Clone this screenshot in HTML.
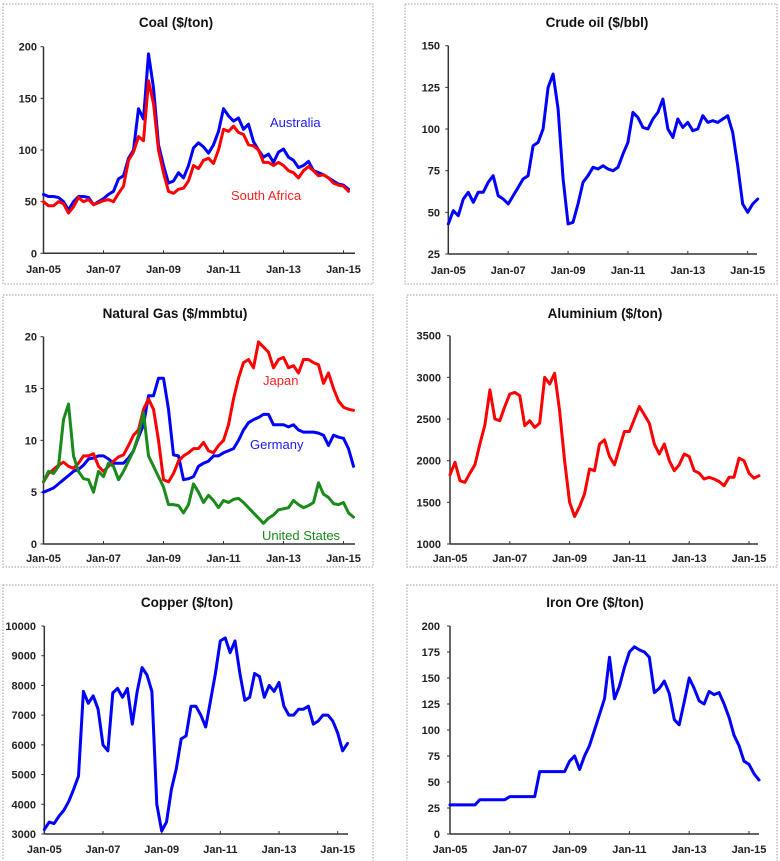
<!DOCTYPE html>
<html><head><meta charset="utf-8"><style>
html,body{margin:0;padding:0;background:#fff;}
body{width:780px;height:861px;overflow:hidden;font-family:"Liberation Sans",Arial,sans-serif;}
svg{display:block;}
</style></head><body>
<svg id="chart" width="780" height="861" viewBox="0 0 780 861" xmlns="http://www.w3.org/2000/svg"></svg>
<script>
// Month offsets: index i -> month 2*i from Jan-05
const xTickLabels = ["Jan-05","Jan-07","Jan-09","Jan-11","Jan-13","Jan-15"];
const coalAustralia = [57,55,55,54,50,42,50,55,55,54,47,50,53,57,60,72,75,92,100,140,130,193,160,105,85,68,70,78,73,85,102,107,103,97,105,118,140,133,128,131,120,125,108,100,93,96,88,98,101,93,90,83,85,89,80,78,76,73,70,67,66,62];
const coalSouthAfrica = [50,46,46,50,48,39,45,54,50,52,47,49,51,52,50,58,65,90,98,113,109,167,145,100,78,60,58,62,63,70,85,82,90,92,87,100,120,118,123,117,115,105,104,100,88,88,85,88,85,80,78,73,80,84,80,75,76,73,68,66,65,60];
const crudeOil = [43,51,48,58,62,56,62,62,68,72,60,58,55,60,65,70,72,90,92,100,125,133,112,70,43,44,55,68,72,77,76,78,76,75,77,85,92,110,107,101,100,106,110,118,100,95,106,101,104,99,100,108,104,105,104,106,108,98,78,55,50,55,58];
const gasJapan = [6,6.8,7.2,7.6,7.9,7.5,7.3,7.8,8.5,8.5,8.7,7.5,7,7.5,8,8.4,8.6,9.5,10.5,11,13,14,13,10,6.2,6,6.8,8,8.5,8.8,9.2,9.2,9.8,9,8.8,9.5,10,11.5,14,16,17.5,17.8,17,19.5,19,18.5,17,17.8,18,17,17.2,16.5,17.8,17.8,17.5,17.3,15.5,16.5,15,13.8,13.2,13,12.9];
const gasGermany = [5,5.2,5.4,5.8,6.2,6.6,7,7.2,7.6,8.2,8.3,8.5,8.5,8.2,7.8,7.8,7.8,8.3,9,10.3,11.5,14.3,14.3,16,16,13,8.6,8.5,6.2,6.3,6.5,7.5,7.8,8,8.5,8.5,8.8,9,9.2,10,11,11.7,12,12.2,12.5,12.5,11.5,11.5,11.5,11.3,11.5,11,10.8,10.8,10.8,10.7,10.5,9.5,10.5,10.3,10.2,9.2,7.5];
const gasUS = [6,7,6.8,7.5,12,13.5,8.5,7,6.3,6.2,5,7,6.5,7.8,7.5,6.2,7,8,9,10.5,12.7,8.5,7.5,6.5,5.5,3.8,3.8,3.7,3,3.8,5.8,5,4,4.7,4.2,3.5,4.2,4,4.3,4.4,4,3.5,3,2.5,2,2.5,2.8,3.3,3.4,3.5,4.2,3.8,3.5,3.7,4,5.9,4.8,4.5,3.9,3.8,4,3,2.6];
const aluminium = [1830,1980,1760,1740,1850,1950,2200,2430,2850,2500,2480,2650,2800,2820,2780,2420,2480,2400,2450,3000,2920,3050,2600,2000,1500,1330,1450,1600,1900,1880,2200,2250,2050,1950,2150,2350,2350,2500,2650,2550,2450,2200,2080,2200,2000,1880,1950,2080,2050,1880,1850,1780,1800,1780,1750,1700,1800,1800,2030,2000,1850,1790,1820];
const copper = [3150,3400,3350,3600,3800,4100,4500,4950,7800,7400,7650,7200,6000,5800,7750,7900,7600,7900,6700,7800,8600,8350,7800,4000,3100,3400,4500,5200,6200,6300,7300,7300,7000,6600,7500,8400,9500,9600,9100,9500,8400,7500,7600,8400,8300,7600,8000,7800,8100,7300,7000,7000,7200,7200,7300,6700,6800,7000,7000,6800,6400,5800,6050];
const ironOre = [28,28,28,28,28,28,33,33,33,33,33,33,36,36,36,36,36,36,60,60,60,60,60,60,70,75,62,75,85,100,115,130,170,130,142,160,175,180,177,175,170,136,140,147,135,110,105,127,150,140,128,125,137,134,136,125,112,95,85,70,67,58,52];
const coalTicks = [0,50,100,150,200];
const oilTicks = [25,50,75,100,125,150];
const gasTicks = [0,5,10,15,20];
const aluTicks = [1000,1500,2000,2500,3000,3500];
const copperTicks = [3000,4000,5000,6000,7000,8000,9000,10000];
const ironTicks = [0,25,50,75,100,125,150,175,200];

const NS = "http://www.w3.org/2000/svg";
const svg = document.getElementById('chart');
function mk(tag, attrs, parent){const e=document.createElementNS(NS,tag);for(const k in attrs)e.setAttribute(k,attrs[k]);(parent||svg).appendChild(e);return e;}

function panel(cfg){
  const g = mk('g',{});
  
  
  const fr = mk('rect',{x:cfg.fx,y:cfg.fy,width:cfg.fw,height:cfg.fh,fill:'#fff',stroke:'#b0b0b0','stroke-width':1.2,'stroke-dasharray':'1.5 1.5'},g);
  
  
  const t = mk('text',{x:cfg.tx,y:cfg.ty,'text-anchor':'middle','font-size':13.5,'font-weight':'bold',fill:'#111'},g);
  t.textContent = cfg.title;
  
  
  const ppm = (cfg.x15 - cfg.x0)/120;
  const xs = m => cfg.x0 + m*ppm;
  const ys = v => cfg.yBot - (v - cfg.vMin)/(cfg.vMax - cfg.vMin)*(cfg.yBot - cfg.yTop);
  const ya = mk('line',{x1:cfg.x0,y1:cfg.yTop,x2:cfg.x0,y2:cfg.yBot,stroke:'#333','stroke-width':1.5},g);
  
  
  const xa = mk('line',{x1:cfg.x0,y1:cfg.yBot,x2:cfg.xEnd,y2:cfg.yBot,stroke:'#333','stroke-width':1.5},g);
  
  
  cfg.ticks.forEach(v=>{
    const y=ys(v);
    mk('line',{x1:cfg.x0-3,y1:y,x2:cfg.x0,y2:y,stroke:'#333','stroke-width':1},g);
    const tl=mk('text',{x:cfg.ylx,y:y+4,'text-anchor':'end','font-size':11,'font-weight':'bold',fill:'#222'},g);
    tl.textContent=v;
    
    
  });
  xTickLabels.forEach((lab,i)=>{
    const x=xs(i*24);
    mk('line',{x1:x,y1:cfg.yBot-3,x2:x,y2:cfg.yBot,stroke:'#333','stroke-width':1},g);
    const tl=mk('text',{x:x,y:cfg.xly,'text-anchor':'middle','font-size':11,'font-weight':'bold',fill:'#222'},g);
    tl.textContent=lab;
    
    
  });
  cfg.series.forEach(s=>{
    const d = s.data.map((v,i)=>(i?'L':'M')+xs(i*2).toFixed(1)+' '+ys(v).toFixed(1)).join(' ');
    const p = mk('path',{d:d,fill:'none',stroke:s.color,'stroke-width':3,'stroke-linejoin':'round','stroke-linecap':'round'},g);
    
    
  });
  (cfg.labels||[]).forEach(l=>{
    const tl=mk('text',{x:l.x,y:l.y,'font-size':13,fill:l.color},g);
    tl.textContent=l.text;
    
    
  });
}
const BLUE='#0000ff', RED='#ff0000', GREEN='#1a8a1a';
panel({name:'coal-panel',title:'Coal ($/ton)',fx:3,fy:4,fw:370,fh:280,tx:176,ty:27,x0:43.5,x15:343.5,xEnd:355,yTop:46.7,yBot:253.3,vMin:0,vMax:200,ticks:coalTicks,ylx:37,xly:273,
  series:[{name:'coal-australia-line',data:coalAustralia,color:BLUE},{name:'coal-south-africa-line',data:coalSouthAfrica,color:RED}],
  labels:[{text:'Australia',x:270,y:127,color:'#1a1aff'},{text:'South Africa',x:231,y:200,color:'#ff2020'}]});
panel({name:'crude-oil-panel',title:'Crude oil ($/bbl)',fx:405,fy:4,fw:372,fh:280,tx:597,ty:27,x0:448.3,x15:747.7,xEnd:757,yTop:45.7,yBot:254,vMin:25,vMax:150,ticks:oilTicks,ylx:440,xly:274,
  series:[{name:'crude-oil-line',data:crudeOil,color:BLUE}]});
panel({name:'natural-gas-panel',title:'Natural Gas ($/mmbtu)',fx:3,fy:295,fw:370,fh:272,tx:175,ty:318,x0:43.5,x15:343.5,xEnd:355,yTop:336.7,yBot:544,vMin:0,vMax:20,ticks:gasTicks,ylx:37,xly:562,
  series:[{name:'gas-germany-line',data:gasGermany,color:BLUE},{name:'gas-japan-line',data:gasJapan,color:RED},{name:'gas-us-line',data:gasUS,color:GREEN}],
  labels:[{text:'Japan',x:263,y:385,color:'#ff2020'},{text:'Germany',x:250,y:449,color:'#1a1aff'},{text:'United States',x:262,y:540,color:GREEN}]});
panel({name:'aluminium-panel',title:'Aluminium ($/ton)',fx:407,fy:295,fw:370,fh:272,tx:605,ty:318,x0:450,x15:749,xEnd:758,yTop:335.7,yBot:544,vMin:1000,vMax:3500,ticks:aluTicks,ylx:441,xly:562,
  series:[{name:'aluminium-line',data:aluminium,color:RED}]});
panel({name:'copper-panel',title:'Copper ($/ton)',fx:3,fy:585,fw:370,fh:280,tx:187,ty:607,x0:44.3,x15:337.7,xEnd:348,yTop:626,yBot:834,vMin:3000,vMax:10000,ticks:copperTicks,ylx:36,xly:853,
  series:[{name:'copper-line',data:copper,color:BLUE}]});
panel({name:'iron-ore-panel',title:'Iron Ore ($/ton)',fx:407,fy:585,fw:370,fh:280,tx:595,ty:607,x0:450,x15:749,xEnd:759,yTop:626,yBot:834,vMin:0,vMax:200,ticks:ironTicks,ylx:440,xly:853,
  series:[{name:'iron-ore-line',data:ironOre,color:BLUE}]});
</script>
</body></html>
